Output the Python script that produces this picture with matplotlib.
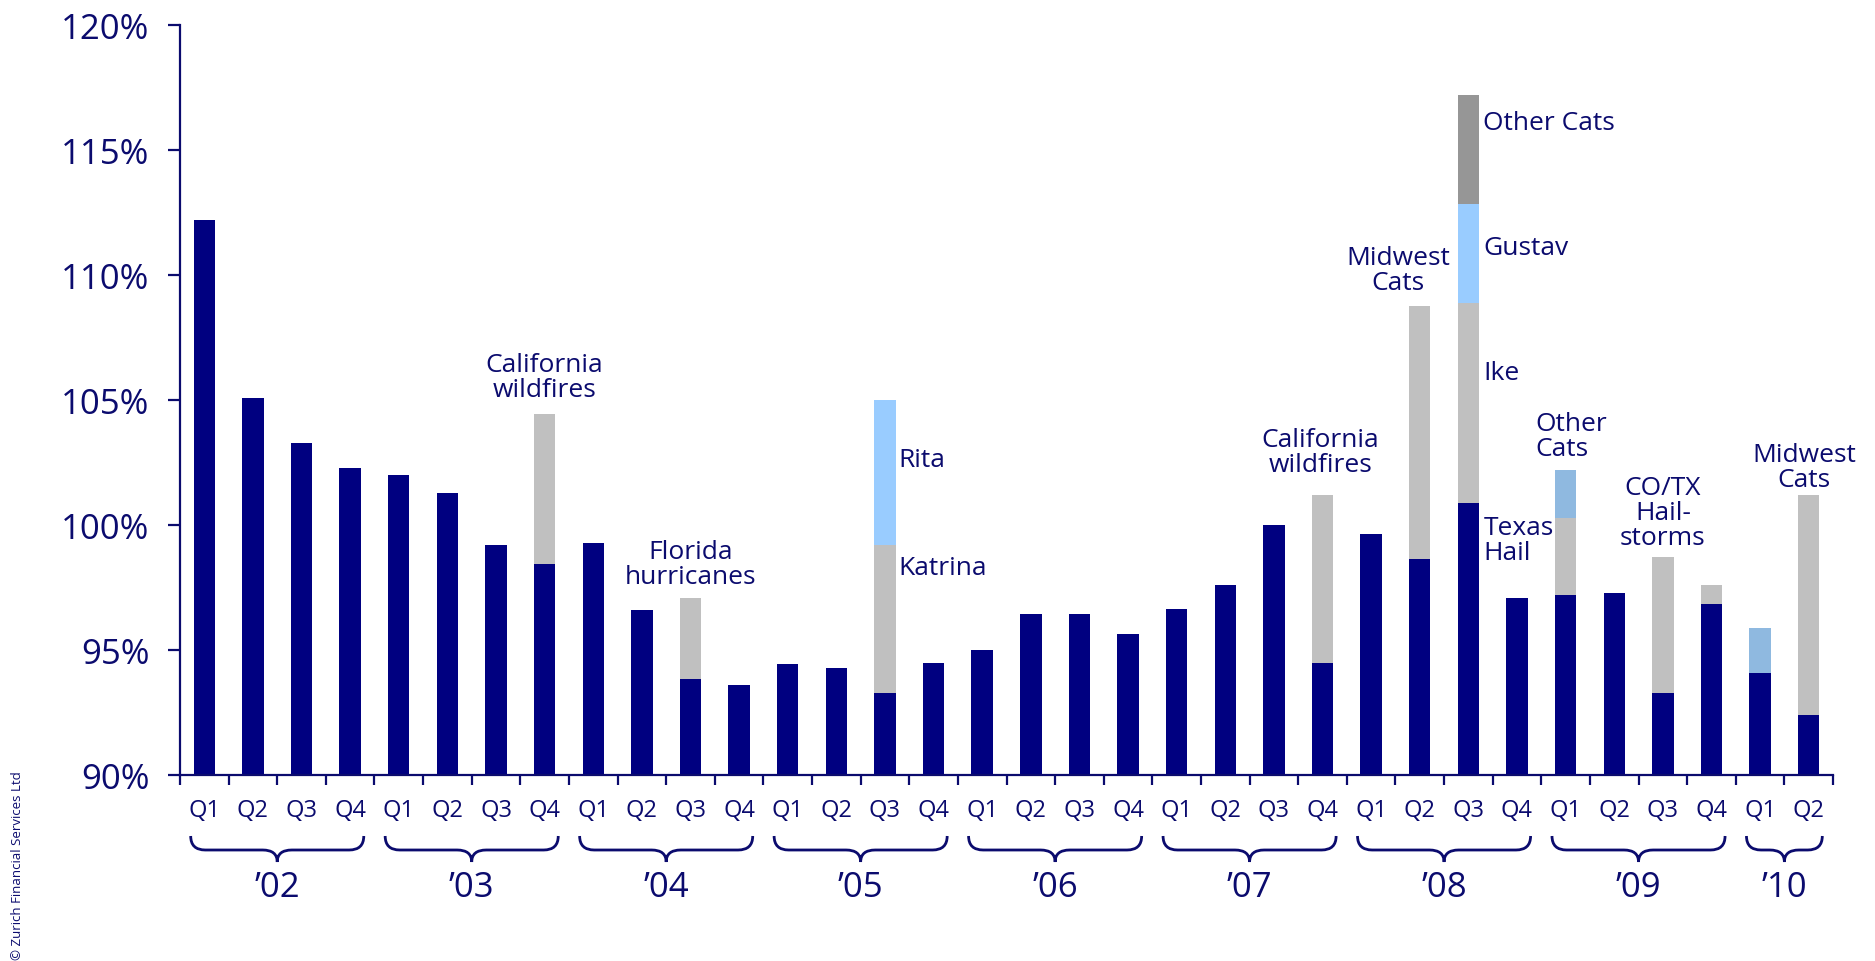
import matplotlib
matplotlib.use("Agg")
import matplotlib.pyplot as plt
from matplotlib.path import Path
from matplotlib.patches import PathPatch
from matplotlib.transforms import blended_transform_factory
import numpy as np

plt.rcParams['font.family'] = ['Open Sans', 'DejaVu Sans']

# ---- data: combined ratio by quarter, 2002 Q1 .. 2010 Q2 ----
quarters = ['Q1', 'Q2', 'Q3', 'Q4'] * 8 + ['Q1', 'Q2']
years = ['’02', '’03', '’04', '’05', '’06', '’07', '’08', '’09', '’10']
quarters_per_year = [4, 4, 4, 4, 4, 4, 4, 4, 2]

# combined ratio excluding catastrophe impacts (%)
core = [112.2, 105.1, 103.3, 102.3,
        102.0, 101.3, 99.2, 98.45,
        99.3, 96.6, 93.85, 93.6,
        94.45, 94.3, 93.3, 94.5,
        95.0, 96.45, 96.45, 95.65,
        96.65, 97.6, 100.0, 94.5,
        99.65, 98.65, 100.9, 97.1,
        97.2, 97.3, 93.3, 96.85,
        94.1, 92.4]

# catastrophe impacts, percentage points
cat_major = [0, 0, 0, 0,
             0, 0, 0, 6.0,
             0, 0, 3.25, 0,
             0, 0, 5.9, 0,
             0, 0, 0, 0,
             0, 0, 0, 6.7,
             0, 10.1, 8.0, 0,
             3.1, 0, 5.4, 0.75,
             0, 8.8]
cat_hurricane = [0] * 34
cat_hurricane[14] = 5.8    # Rita
cat_hurricane[26] = 3.95   # Gustav
cat_other = [0] * 34
cat_other[28] = 1.9
cat_other[32] = 1.8
cat_other_2008 = [0] * 34
cat_other_2008[26] = 4.35

ink = '#0b0b6e'
navy = '#000080'
colors = {'major': '#c0c0c0', 'hurricane': '#99ccff',
          'other': '#8fb9e0', 'other08': '#969696'}

fig = plt.figure(figsize=(18.75, 9.62), dpi=100)
ax = fig.add_axes([180 / 1875, 1 - 776 / 962, 1653 / 1875, 750 / 962])

x = np.arange(len(core))
w = 0.44
base = np.array(core, dtype=float)
ax.bar(x, base - 90, bottom=90, width=w, color=navy, linewidth=0, zorder=2)
for series, key in [(cat_major, 'major'), (cat_hurricane, 'hurricane'),
                    (cat_other, 'other'), (cat_other_2008, 'other08')]:
    vals = np.array(series, dtype=float)
    ax.bar(x, vals, bottom=base, width=w, color=colors[key], linewidth=0, zorder=2)
    base = base + vals

ax.set_xlim(-0.5, len(core) - 0.5)
ax.set_ylim(90, 120)

for side in ['top', 'right']:
    ax.spines[side].set_visible(False)
for side in ['left', 'bottom']:
    ax.spines[side].set_color(ink)
    ax.spines[side].set_linewidth(1.6)

ax.set_yticks(np.arange(90, 121, 5))
ax.set_yticklabels([f'{v}%' for v in range(90, 121, 5)], fontsize=25, color=ink)
ax.tick_params(axis='y', length=9, width=1.6, color=ink, pad=13)

ax.set_xticks(np.arange(-0.5, len(core), 1.0))
ax.set_xticklabels([])
ax.tick_params(axis='x', length=7, width=1.6, color=ink)

# quarter labels, braces and year labels below the axis
bt = blended_transform_factory(ax.transData, fig.transFigure)
for i, q in enumerate(quarters):
    ax.text(i, 1 - 811 / 962, q, transform=bt, ha='center', va='center',
            fontsize=17, color=ink)

y_top, y_mid, y_tip = 1 - 837 / 962, 1 - 851 / 962, 1 - 863 / 962
start = 0
for label, n in zip(years, quarters_per_year):
    x0 = start - 0.5 + 0.22
    x1 = start + n - 0.5 - 0.22
    xc = (x0 + x1) / 2
    r, r2 = 0.3, 0.3
    verts = [(x0, y_top), (x0, y_mid), (x0 + r, y_mid),
             (xc - r2, y_mid),
             (xc, y_mid), (xc, y_tip),
             (xc, y_mid), (xc + r2, y_mid),
             (x1 - r, y_mid),
             (x1, y_mid), (x1, y_top)]
    codes = [Path.MOVETO, Path.CURVE3, Path.CURVE3,
             Path.LINETO,
             Path.CURVE3, Path.CURVE3,
             Path.CURVE3, Path.CURVE3,
             Path.LINETO,
             Path.CURVE3, Path.CURVE3]
    fig.add_artist(PathPatch(Path(verts, codes), transform=bt, fill=False,
                             edgecolor=ink, linewidth=2.0, clip_on=False))
    ax.text(xc, 1 - 888 / 962, label, transform=bt, ha='center', va='center',
            fontsize=25, color=ink)
    start += n

# event annotations
notes = [
    (7, 105.9, 'California\nwildfires', 'center'),
    (10, 98.45, 'Florida\nhurricanes', 'center'),
    (14.27, 102.6, 'Rita', 'left'),
    (14.27, 98.3, 'Katrina', 'left'),
    (22.95, 102.9, 'California\nwildfires', 'center'),
    (24.55, 110.2, 'Midwest\nCats', 'center'),
    (26.31, 116.1, 'Other Cats', 'left'),
    (26.31, 111.1, 'Gustav', 'left'),
    (26.31, 106.1, 'Ike', 'left'),
    (26.31, 99.4, 'Texas\nHail', 'left'),
    (27.38, 103.55, 'Other\nCats', 'left'),
    (30.0, 100.5, 'CO/TX\nHail-\nstorms', 'center'),
    (32.9, 102.3, 'Midwest\nCats', 'center'),
]
for nx, ny, txt, ha in notes:
    ax.text(nx, ny, txt, ha=ha, va='center', multialignment=ha,
            fontsize=19, color=ink, linespacing=1.0, zorder=3)

fig.text(18 / 1875, 0.002, '© Zurich Financial Services Ltd', rotation=90,
         ha='center', va='bottom', fontsize=9.5, color=ink)

fig.savefig('out.png', dpi=100, facecolor='white')
